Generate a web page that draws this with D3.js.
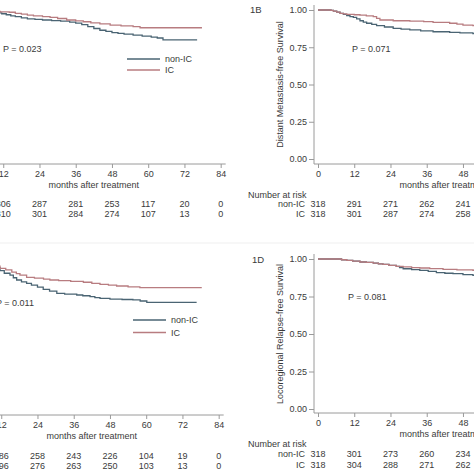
<!DOCTYPE html>
<html><head><meta charset="utf-8">
<script src="https://cdn.jsdelivr.net/npm/d3@7"></script>
<style>
body{margin:0;background:#fff}
svg{display:block;font-family:"Liberation Sans",Arial,sans-serif}
</style>
</head><body>
<svg id="c" width="474" height="474"></svg>
<script>
// ---------- data ----------
const xTicks = [0, 12, 24, 36, 48, 60, 72, 84];
const yTicks = [0, 0.25, 0.5, 0.75, 1];
const groups = ["non-IC", "IC"];

// Panel 1A (top-left)
const aNonIC = [[0,1],[2.5,0.996],[4,0.992],[6,0.989],[8,0.985],[10,0.981],[11.5,0.975],[13,0.968],[14.5,0.961],[16,0.955],[18,0.947],[20,0.941],[22.5,0.937],[25,0.933],[28,0.929],[31,0.925],[34,0.919],[36,0.912],[38,0.902],[40,0.889],[42,0.876],[44,0.864],[46,0.856],[48,0.848],[50,0.843],[52,0.838],[55,0.832],[58,0.825],[61,0.818],[63,0.812],[64.9,0.799],[76.2,0.799]];
const aIC = [[0,1],[3,0.997],[6,0.994],[9,0.99],[11,0.987],[14,0.985],[16,0.978],[18,0.972],[20,0.966],[22,0.96],[25,0.956],[27.5,0.951],[30,0.943],[33,0.933],[36,0.927],[38.5,0.921],[41,0.914],[44,0.907],[47.4,0.899],[51,0.893],[55,0.888],[57.3,0.881],[77.8,0.881]];
const aRiskMonths = [12, 24, 36, 48, 60, 72, 84];
const aRiskNonIC = [306, 287, 281, 253, 117, 20, 0];
const aRiskIC = [310, 301, 284, 274, 107, 13, 0];
const aP = "P = 0.023";

// Panel 1B (top-right)
const bNonIC = [[0,1],[3.4,1],[4.3,0.997],[5.1,0.993],[6.2,0.986],[7.3,0.978],[8.4,0.97],[9.5,0.962],[10.6,0.956],[11.7,0.951],[12.8,0.94],[13.9,0.928],[15,0.919],[16.1,0.911],[17.8,0.903],[19.4,0.895],[22,0.886],[24.9,0.877],[27.5,0.871],[30.4,0.866],[34,0.86],[38.1,0.854],[43.6,0.85],[47,0.846],[51.3,0.841],[56,0.838],[62,0.835],[76,0.835]];
const bIC = [[0,1],[3.4,1],[4.3,0.997],[5.1,0.993],[6.2,0.986],[7.3,0.978],[8.4,0.974],[9.5,0.971],[12,0.968],[13.9,0.966],[16,0.961],[18.3,0.955],[19.4,0.944],[20.5,0.933],[24.9,0.928],[30.4,0.926],[35,0.922],[38.1,0.917],[43.6,0.911],[46,0.905],[48,0.899],[51.3,0.895],[56,0.893],[62,0.89],[78,0.89]];
const bRiskMonths = [0, 12, 24, 36, 48];
const bRiskNonIC = [318, 291, 271, 262, 241];
const bRiskIC = [318, 301, 287, 274, 258];
const bP = "P = 0.071";
const bLabel = "1B";
const bYTitle = "Distant Metastasis-free Survival";

// Panel 1C (bottom-left)
const cNonIC = [[0,1],[2,0.995],[4,0.985],[6,0.972],[8,0.958],[10,0.942],[11.6,0.922],[13,0.905],[14.9,0.893],[16,0.875],[17.1,0.86],[18.7,0.848],[20.4,0.838],[22,0.826],[24,0.812],[25.9,0.798],[28,0.786],[30.4,0.771],[33,0.766],[37,0.76],[39,0.755],[41.4,0.749],[43,0.743],[44.7,0.738],[48,0.733],[52,0.73],[55.6,0.727],[58,0.72],[60.2,0.711],[76.7,0.711]];
const cIC = [[0,1],[2,0.996],[4,0.99],[6,0.98],[8,0.968],[10,0.952],[11.6,0.938],[13.5,0.927],[15.5,0.913],[17,0.902],[18.2,0.893],[20.4,0.878],[23,0.872],[26,0.866],[28.1,0.86],[31,0.856],[35,0.851],[39.2,0.845],[42,0.838],[44.7,0.831],[47.5,0.826],[50.2,0.82],[54,0.814],[57.9,0.809],[78.4,0.809]];
const cRiskMonths = [12, 24, 36, 48, 60, 72, 84];
const cRiskNonIC = [286, 258, 243, 226, 104, 19, 0];
const cRiskIC = [296, 276, 263, 250, 103, 13, 0];
const cP = "P = 0.011";

// Panel 1D (bottom-right)
const dNonIC = [[0,1],[6.2,1],[7.8,0.995],[9.5,0.991],[11.5,0.986],[13.9,0.98],[16,0.977],[18.3,0.973],[20,0.968],[21.5,0.964],[23.5,0.958],[25.9,0.951],[27,0.943],[28.2,0.935],[31,0.929],[33.7,0.924],[36.5,0.917],[39.2,0.909],[42,0.905],[44.7,0.902],[48,0.896],[51.3,0.891],[56,0.888],[62,0.885],[76,0.885]];
const dIC = [[0,1],[6.2,1],[7.8,0.995],[9.5,0.991],[11.5,0.986],[13.9,0.98],[16,0.977],[18.3,0.973],[20,0.968],[21.5,0.964],[23.5,0.958],[25.9,0.951],[28.2,0.947],[31,0.943],[33.7,0.94],[37,0.936],[41.4,0.931],[46,0.928],[51.3,0.925],[58,0.922],[78,0.922]];
const dRiskMonths = [0, 12, 24, 36, 48];
const dRiskNonIC = [318, 301, 273, 260, 234];
const dRiskIC = [318, 304, 288, 271, 262];
const dP = "P = 0.081";
const dLabel = "1D";
const dYTitle = "Locoregional Relapse-free Survival";

const xTitle = "months after treatment";
const riskTitle = "Number at risk";

// ---------- layout / style ----------
const colors = {"non-IC": "#4a6473", "IC": "#b87c80"};
const textCol = "#3a3a3a";
const axisCol = "#9a9a9a";
const FS = 9;
const PPM = 3.02;

const panels = [
  {x0:-33, top:10, bottom:159, axisY:164, rowY:[204,214], titleY:195,
   curves:[aNonIC,aIC], riskMonths:aRiskMonths, risk:[aRiskNonIC,aRiskIC],
   p:aP, pPos:[3,49], legend:[127,59,11], showLeft:false},
  {x0:318, top:10, bottom:159, axisY:164, rowY:[204,214], titleY:195,
   curves:[bNonIC,bIC], riskMonths:bRiskMonths, risk:[bRiskNonIC,bRiskIC],
   p:bP, pPos:[352,49], legend:null, showLeft:true, label:bLabel, labelPos:[250,10], yTitle:bYTitle},
  {x0:-35, top:259, bottom:409, axisY:415, rowY:[456,466], titleY:446,
   curves:[cNonIC,cIC], riskMonths:cRiskMonths, risk:[cRiskNonIC,cRiskIC],
   p:cP, pPos:[-4,303], legend:[133,320,12.5], showLeft:false},
  {x0:318, top:259, bottom:409, axisY:413, rowY:[454,464.5], titleY:444,
   curves:[dNonIC,dIC], riskMonths:dRiskMonths, risk:[dRiskNonIC,dRiskIC],
   p:dP, pPos:[348,297], legend:null, showLeft:true, label:dLabel, labelPos:[252,260], yTitle:dYTitle}
];

const svg = d3.select("#c");
svg.append("rect").attr("width",474).attr("height",474).attr("fill","#fff");

// faint separator between rows
svg.append("line").attr("x1",0).attr("x2",474).attr("y1",243).attr("y2",243)
  .attr("stroke","#efefef").attr("stroke-width",1);

panels.forEach(P => {
  const g = svg.append("g");
  const x = d3.scaleLinear().domain([0,84]).range([P.x0, P.x0 + 84*PPM]);
  const y = d3.scaleLinear().domain([0,1]).range([P.bottom, P.top]);
  const yAxisX = P.x0 - 4;

  // axis lines
  g.append("line").attr("x1",yAxisX).attr("x2",yAxisX).attr("y1",P.top-5).attr("y2",P.axisY)
    .attr("stroke",axisCol).attr("stroke-width",1);
  g.append("line").attr("x1",yAxisX).attr("x2",x(84)+5).attr("y1",P.axisY).attr("y2",P.axisY)
    .attr("stroke",axisCol).attr("stroke-width",1);

  // x axis
  const xa = g.append("g").attr("transform",`translate(0,${P.axisY})`)
    .call(d3.axisBottom(x).tickValues(xTicks.filter(t => x(t) > -8 && x(t) < 490))
      .tickFormat(d3.format("d")).tickSize(4).tickPadding(3).tickSizeOuter(0));
  xa.select(".domain").remove();
  xa.selectAll(".tick line").attr("stroke",axisCol);
  xa.selectAll(".tick text").attr("fill",textCol).style("font-size",FS+"px")
    .style("font-family","'Liberation Sans',Arial,sans-serif");

  // y axis
  if (P.showLeft) {
    const ya = g.append("g").attr("transform",`translate(${yAxisX},0)`)
      .call(d3.axisLeft(y).tickValues(yTicks).tickFormat(d3.format(".2f"))
        .tickSize(5).tickPadding(2).tickSizeOuter(0));
    ya.select(".domain").remove();
    ya.selectAll(".tick line").attr("stroke",axisCol);
    ya.selectAll(".tick text").attr("fill",textCol).style("font-size",FS+"px")
      .style("font-family","'Liberation Sans',Arial,sans-serif");

    g.append("text").attr("transform",`translate(280,${(P.top+P.bottom)/2}) rotate(-90)`)
      .attr("text-anchor","middle").attr("dy","0.35em")
      .attr("fill",textCol).style("font-size",FS+"px").text(P.yTitle);

    g.append("text").attr("x",P.labelPos[0]).attr("y",P.labelPos[1]).attr("dy","0.35em")
      .attr("fill",textCol).style("font-size","9.5px").text(P.label);

    g.append("text").attr("x",248).attr("y",P.titleY).attr("dy","0.35em")
      .attr("fill",textCol).style("font-size",FS+"px").text(riskTitle);
    groups.forEach((grp,i) => {
      g.append("text").attr("x",305).attr("y",P.rowY[i]).attr("dy","0.35em")
        .attr("text-anchor","end").attr("fill",textCol).style("font-size",FS+"px").text(grp);
    });
  }

  // x title
  g.append("text").attr("x",x(42)).attr("y",P.axisY+21).attr("dy","0.35em")
    .attr("text-anchor","middle").attr("fill",textCol).style("font-size",FS+"px").text(xTitle);

  // curves
  const line = d3.line().x(d => x(d[0])).y(d => y(d[1])).curve(d3.curveStepAfter);
  P.curves.forEach((c,i) => {
    g.append("path").datum(c).attr("d",line).attr("fill","none")
      .attr("stroke",colors[groups[i]]).attr("stroke-width",1.3);
  });

  // P value
  g.append("text").attr("x",P.pPos[0]).attr("y",P.pPos[1]).attr("dy","0.35em")
    .attr("fill",textCol).style("font-size",FS+"px").text(P.p);

  // legend
  if (P.legend) {
    const [lx,ly,gap] = P.legend;
    groups.forEach((grp,i) => {
      const yy = ly + i*gap;
      g.append("line").attr("x1",lx).attr("x2",lx+33).attr("y1",yy).attr("y2",yy)
        .attr("stroke",colors[grp]).attr("stroke-width",1.3);
      g.append("text").attr("x",lx+38).attr("y",yy).attr("dy","0.35em")
        .attr("fill",textCol).style("font-size",FS+"px").text(grp);
    });
  }

  // risk table numbers
  P.risk.forEach((vals,i) => {
    vals.forEach((v,j) => {
      const m = P.riskMonths[j];
      g.append("text").attr("x",x(m)).attr("y",P.rowY[i]).attr("dy","0.35em")
        .attr("text-anchor","middle").attr("fill",textCol).style("font-size",FS+"px").text(v);
    });
  });
});
</script>
</body></html>
